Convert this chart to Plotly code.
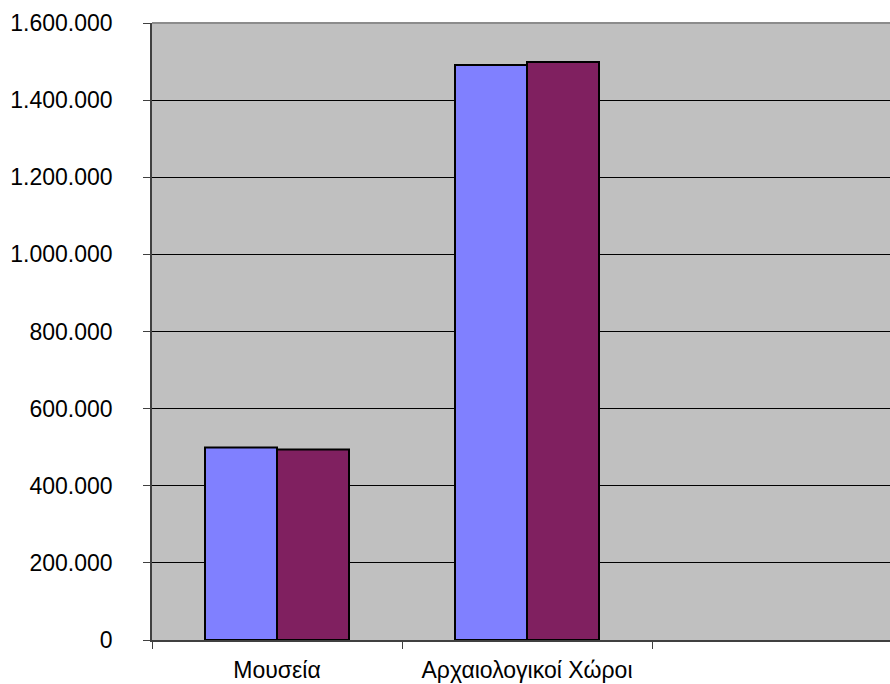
import plotly.graph_objects as go

categories = ["Μουσεία", "Αρχαιολογικοί Χώροι", " "]
series_1 = [499000, 1491000, None]
series_2 = [494000, 1499000, None]
y_ticks = [0, 200000, 400000, 600000, 800000, 1000000, 1200000, 1400000, 1600000]

fig = go.Figure()
fig.add_trace(go.Bar(x=categories, y=series_1, name="Σειρά 1",
                     marker=dict(color="#8080FF", line=dict(color="#000000", width=2))))
fig.add_trace(go.Bar(x=categories, y=series_2, name="Σειρά 2",
                     marker=dict(color="#802060", line=dict(color="#000000", width=2))))

fig.update_layout(
    width=890, height=684,
    margin=dict(l=152, r=0, t=23, b=44),
    paper_bgcolor="#FFFFFF",
    plot_bgcolor="#C0C0C0",
    barmode="group",
    bargap=0.424,
    bargroupgap=0,
    showlegend=False,
    separators=",.",
    font=dict(family="Liberation Sans, Arial, sans-serif", size=22, color="#000000"),
)
fig.update_xaxes(
    type="category",
    categoryorder="array", categoryarray=categories,
    range=[-0.5, 2.452],
    tickson="boundaries",
    ticks="outside", ticklen=7, tickcolor="#404040", tickwidth=1,
    showline=True, linecolor="#404040", linewidth=1.5,
    showgrid=False, zeroline=False,
    tickfont=dict(size=23),
    ticklabelstandoff=9,
    automargin=False,
    fixedrange=True,
)
fig.update_yaxes(
    range=[0, 1600000],
    tickvals=y_ticks,
    tickformat=",d",
    ticks="outside", ticklen=7, tickcolor="#404040", tickwidth=1,
    showline=True, linecolor="#404040", linewidth=1.5,
    showgrid=True, gridcolor="#000000", gridwidth=1,
    zeroline=False,
    tickfont=dict(size=23),
    ticklabelstandoff=26,
    automargin=False,
    fixedrange=True,
)
fig.add_shape(type="line", xref="paper", yref="paper", x0=0, x1=1, y0=1, y1=1,
              line=dict(color="#8C8C8C", width=2), layer="above")

fig.write_html("out.html", config={"displayModeBar": False},
               post_script="document.body.style.margin='0';document.body.style.overflow='hidden';")
